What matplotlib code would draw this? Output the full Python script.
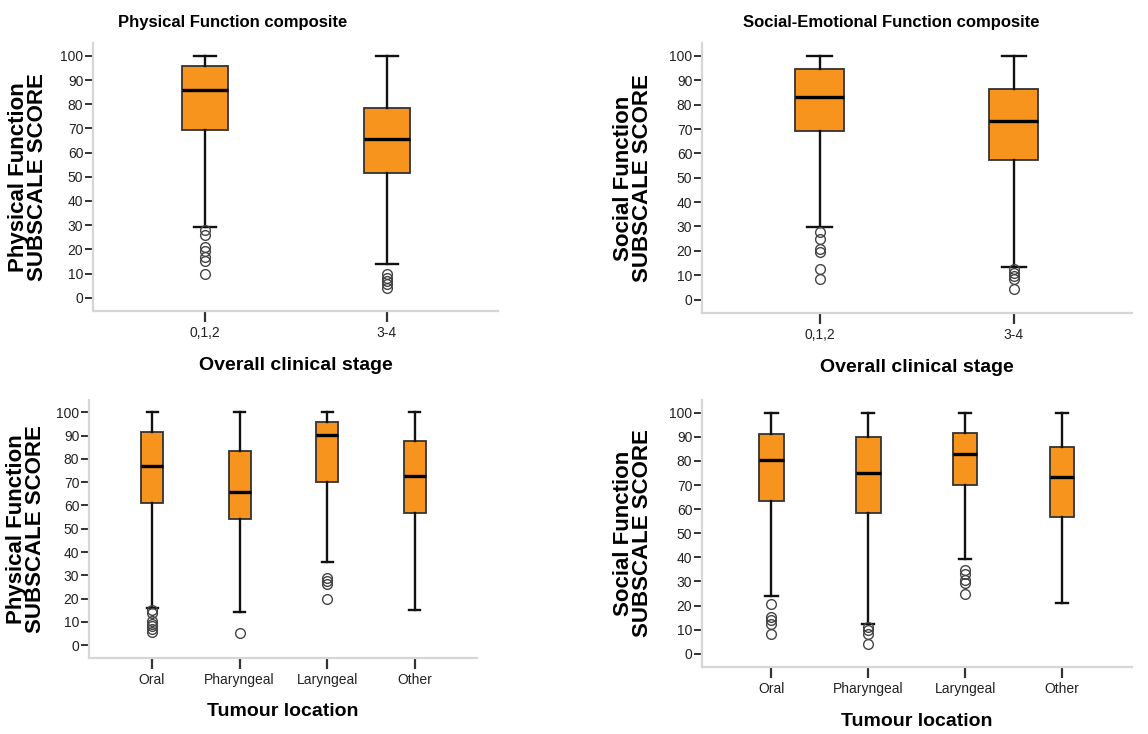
import numpy as np
import matplotlib
matplotlib.use("Agg")
import matplotlib.pyplot as plt

plt.rcParams['font.family'] = ['Liberation Sans', 'DejaVu Sans']

# values (whislo, q1, med, q3, whishi, outliers)
stage_cats = ["0,1,2", "3-4"]
loc_cats = ["Oral", "Pharyngeal", "Laryngeal", "Other"]

phys_stage_whislo = [29.2, 13.8]
phys_stage_q1 = [69.2, 51.6]
phys_stage_med = [85.7, 65.8]
phys_stage_q3 = [95.9, 78.5]
phys_stage_whishi = [100, 100]
phys_stage_fliers = [[27.9, 25.8, 20.8, 19.4, 16.7, 15.3, 9.9],
                     [9.7, 8.3, 6.9, 5.6, 4.2]]

soc_stage_whislo = [29.8, 13.3]
soc_stage_q1 = [69.1, 57.3]
soc_stage_med = [83.1, 73.2]
soc_stage_q3 = [94.8, 86.3]
soc_stage_whishi = [100, 100]
soc_stage_fliers = [[27.8, 25.0, 20.8, 19.4, 12.5, 8.3],
                    [12.5, 11.1, 9.7, 8.3, 4.2]]

phys_loc_whislo = [16.1, 14.4, 35.9, 15.1]
phys_loc_q1 = [60.9, 54.3, 70.1, 56.6]
phys_loc_med = [76.9, 66.0, 90.1, 72.6]
phys_loc_q3 = [91.6, 83.6, 95.9, 87.6]
phys_loc_whishi = [100, 100, 100, 100]
phys_loc_fliers = [[15.3, 13.9, 10.4, 9.0, 8.3, 6.9, 5.6],
                   [5.1],
                   [29.0, 27.6, 26.1, 20.0],
                   []]

soc_loc_whislo = [24.1, 12.4, 39.3, 21.0]
soc_loc_q1 = [63.4, 58.6, 70.1, 56.8]
soc_loc_med = [80.3, 74.9, 82.8, 73.5]
soc_loc_q3 = [91.0, 90.1, 91.7, 85.8]
soc_loc_whishi = [100, 100, 100, 100]
soc_loc_fliers = [[20.8, 15.3, 13.9, 12.5, 8.3],
                  [11.1, 9.7, 8.3, 4.2],
                  [34.7, 33.3, 30.6, 29.2, 25.0],
                  []]

W, H = 1148, 734


def make_stats(whislo, q1, med, q3, whishi, fliers):
    stats = []
    for i in range(len(med)):
        stats.append(dict(whislo=whislo[i], q1=q1[i], med=med[i], q3=q3[i],
                          whishi=whishi[i], fliers=np.array(fliers[i])))
    return stats


def px_axes(left, top, right, bottom):
    return fig.add_axes([left / W, 1 - bottom / H, (right - left) / W, (bottom - top) / H])


def boxPanel(ax, stats, cats, xlim, ylabel, xlabel, ylab_x, xlab_y):
    ax.bxp(stats, positions=range(len(cats)), widths=0.25, capwidths=0.125,
           patch_artist=True, showfliers=True,
           boxprops=dict(facecolor="#F7941D", edgecolor="#333333", linewidth=1.3),
           medianprops=dict(color="black", linewidth=2.4),
           whiskerprops=dict(color="#111111", linewidth=1.7),
           capprops=dict(color="#111111", linewidth=1.7),
           flierprops=dict(marker="o", markerfacecolor="none", markeredgecolor="#444444",
                           markersize=7, markeredgewidth=1.0, linestyle="none"))
    ax.set_xlim(xlim)
    ax.set_ylim(-5.5, 105.3)
    ax.set_yticks(range(0, 101, 10))
    ax.set_xticks(range(len(cats)))
    ax.set_xticklabels(cats)
    for s in ["top", "right"]:
        ax.spines[s].set_visible(False)
    for s in ["left", "bottom"]:
        ax.spines[s].set_color("#d6d6d6")
        ax.spines[s].set_linewidth(1.6)
    ax.tick_params(axis="y", direction="out", length=6, width=1.4, color="#333333",
                   labelsize=10, labelcolor="#222222", pad=1)
    ax.tick_params(axis="x", direction="out", length=8, width=1.6, color="#333333",
                   labelsize=10, labelcolor="#222222", pad=3)
    ax.set_ylabel(ylabel, fontsize=16, fontweight="bold", linespacing=0.92, va="center")
    ax.yaxis.set_label_coords(ylab_x, 0.5)
    ax.set_xlabel(xlabel, fontsize=14, fontweight="bold", va="center")
    ax.xaxis.set_label_coords(0.5, xlab_y)


fig = plt.figure(figsize=(W / 100, H / 100), dpi=100)

ax1 = px_axes(93, 43, 498, 311)
boxPanel(ax1, make_stats(phys_stage_whislo, phys_stage_q1, phys_stage_med, phys_stage_q3,
                         phys_stage_whishi, phys_stage_fliers),
         stage_cats, (-0.615, 1.61), "Physical Function\nSUBSCALE SCORE",
         "Overall clinical stage", (28 - 93) / 405, -(365 - 311) / 268)

ax2 = px_axes(89, 400, 477, 658)
boxPanel(ax2, make_stats(phys_loc_whislo, phys_loc_q1, phys_loc_med, phys_loc_q3,
                         phys_loc_whishi, phys_loc_fliers),
         loc_cats, (-0.72, 3.71), "Physical Function\nSUBSCALE SCORE",
         "Tumour location", (26 - 89) / 388, -(711 - 658) / 258)

ax3 = px_axes(702, 43, 1132, 313)
boxPanel(ax3, make_stats(soc_stage_whislo, soc_stage_q1, soc_stage_med, soc_stage_q3,
                         soc_stage_whishi, soc_stage_fliers),
         stage_cats, (-0.606, 1.61), "Social Function\nSUBSCALE SCORE",
         "Overall clinical stage", (633 - 702) / 430, -(367 - 313) / 270)

ax4 = px_axes(702, 400, 1132, 667)
boxPanel(ax4, make_stats(soc_loc_whislo, soc_loc_q1, soc_loc_med, soc_loc_q3,
                         soc_loc_whishi, soc_loc_fliers),
         loc_cats, (-0.717, 3.72), "Social Function\nSUBSCALE SCORE",
         "Tumour location", (633 - 702) / 430, -(722 - 667) / 267)

fig.text(233 / W, 1 - 22 / H, "Physical Function composite", fontsize=12,
         fontweight="bold", ha="center", va="center")
fig.text(891 / W, 1 - 22 / H, "Social-Emotional Function composite", fontsize=12,
         fontweight="bold", ha="center", va="center")

fig.savefig("out.png", dpi=100)
